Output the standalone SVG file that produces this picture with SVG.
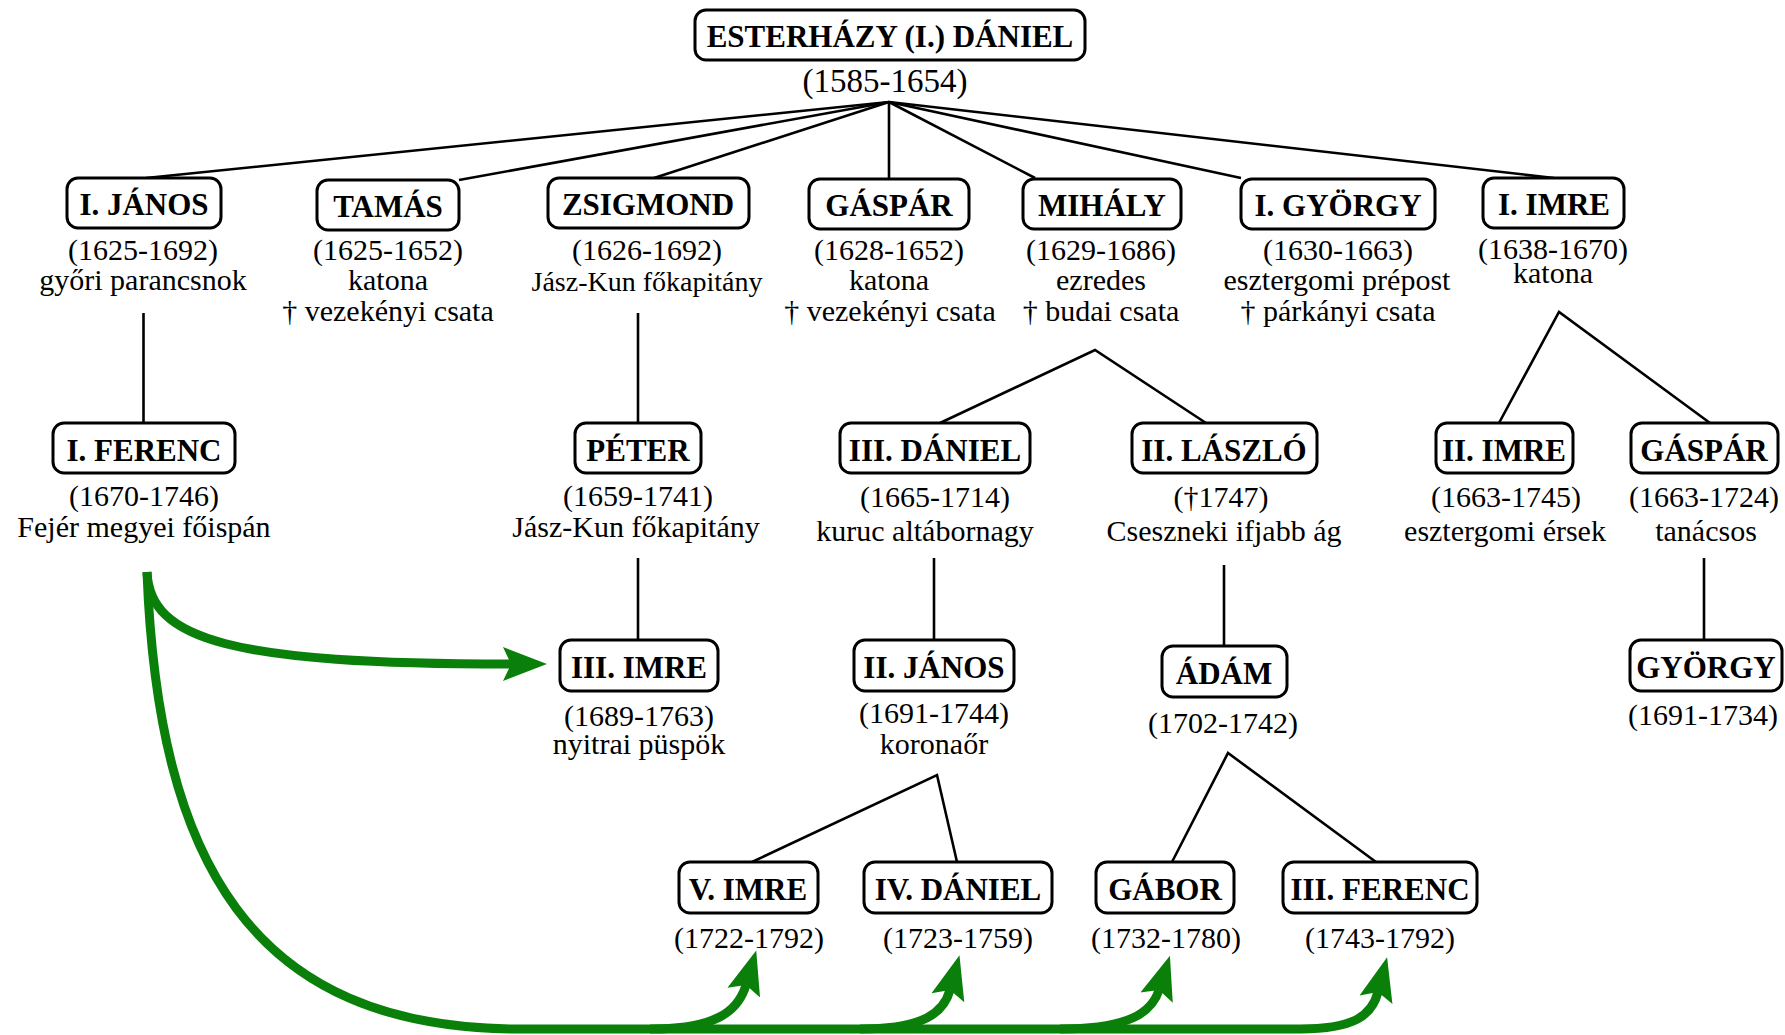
<svg xmlns="http://www.w3.org/2000/svg" width="1785" height="1035" viewBox="0 0 1785 1035">
<style>
.box{fill:#fff;stroke:#000;stroke-width:3}
.nm{font-family:"Liberation Serif","Times New Roman",serif;font-weight:bold;font-size:31px;text-anchor:middle;fill:#000}
.tx{font-family:"Liberation Serif","Times New Roman",serif;font-size:30px;text-anchor:middle;fill:#000}
.ln{stroke:#000;stroke-width:2.6;fill:none;stroke-linejoin:miter}
.gr{stroke:#0a800a;stroke-width:9;fill:none;stroke-linecap:butt}
</style>
<defs>
<marker id="ah" markerUnits="userSpaceOnUse" markerWidth="50" markerHeight="40" viewBox="0 -20 50 40" refX="8" refY="0" orient="auto">
<path d="M44,0 L0,-17 L8,0 L0,17 Z" fill="#0a800a"/>
</marker>
</defs>
<g id="connectors">
<line class="ln" x1="889" y1="102" x2="146" y2="178"/>
<line class="ln" x1="889" y1="102" x2="459" y2="180"/>
<line class="ln" x1="889" y1="102" x2="654" y2="178"/>
<line class="ln" x1="889" y1="102" x2="889" y2="178"/>
<line class="ln" x1="889" y1="102" x2="1035" y2="178"/>
<line class="ln" x1="889" y1="102" x2="1241" y2="178"/>
<line class="ln" x1="889" y1="102" x2="1554" y2="178"/>
<line class="ln" x1="143.5" y1="313" x2="143.5" y2="423"/>
<line class="ln" x1="638" y1="313" x2="638" y2="423"/>
<polyline class="ln" points="940,423 1095,350 1206,423"/>
<polyline class="ln" points="1499,423 1559,312 1710,423"/>
<line class="ln" x1="638" y1="558" x2="638" y2="640"/>
<line class="ln" x1="934" y1="558" x2="934" y2="640"/>
<line class="ln" x1="1224" y1="565" x2="1224" y2="646"/>
<line class="ln" x1="1704" y1="558" x2="1704" y2="640"/>
<polyline class="ln" points="752,862 937,775 957,862"/>
<polyline class="ln" points="1172,862 1228,753 1376,862"/>
<path class="gr" d="M147,572 C150,640 230,664 511,664" marker-end="url(#ah)"/>
<path class="gr" d="M147,572 C158,860 250,1029 520,1029 L1300,1029 C1355,1029 1372,1015 1378,992" marker-end="url(#ah)"/>
<path class="gr" d="M650,1029 C715,1029 738,1012 746,985" marker-end="url(#ah)"/>
<path class="gr" d="M860,1029 C925,1029 944,1012 950,990" marker-end="url(#ah)"/>
<path class="gr" d="M1060,1029 C1130,1029 1152,1012 1159,990" marker-end="url(#ah)"/>
</g>
<g id="n-root"><rect class="box" x="695" y="10" width="390" height="50" rx="11"/><text class="nm" x="890" y="47">ESTERHÁZY (I.) DÁNIEL</text><text class="tx" x="885" y="92" style="font-size:33px">(1585-1654)</text></g>
<g id="n-janos1"><rect class="box" x="67" y="178" width="154" height="50" rx="11"/><text class="nm" x="144" y="215">I. JÁNOS</text><text class="tx" x="143" y="260">(1625-1692)</text><text class="tx" x="143" y="290">győri parancsnok</text></g>
<g id="n-tamas"><rect class="box" x="317" y="180" width="142" height="50" rx="11"/><text class="nm" x="388" y="217">TAMÁS</text><text class="tx" x="388" y="260">(1625-1652)</text><text class="tx" x="388" y="290">katona</text><text class="tx" x="388" y="321">† vezekényi csata</text></g>
<g id="n-zsigmond"><rect class="box" x="548" y="178" width="201" height="50" rx="11"/><text class="nm" x="648" y="215">ZSIGMOND</text><text class="tx" x="647" y="260">(1626-1692)</text><text class="tx" x="647" y="291" style="font-size:28px">Jász-Kun főkapitány</text></g>
<g id="n-gaspar1"><rect class="box" x="809" y="179" width="160" height="50" rx="11"/><text class="nm" x="889" y="216">GÁSPÁR</text><text class="tx" x="889" y="260">(1628-1652)</text><text class="tx" x="889" y="290">katona</text><text class="tx" x="890" y="321">† vezekényi csata</text></g>
<g id="n-mihaly"><rect class="box" x="1023" y="179" width="158" height="50" rx="11"/><text class="nm" x="1102" y="216">MIHÁLY</text><text class="tx" x="1101" y="260">(1629-1686)</text><text class="tx" x="1101" y="290">ezredes</text><text class="tx" x="1101" y="321">† budai csata</text></g>
<g id="n-gyorgy1"><rect class="box" x="1241" y="179" width="194" height="50" rx="11"/><text class="nm" x="1338" y="216">I. GYÖRGY</text><text class="tx" x="1338" y="260">(1630-1663)</text><text class="tx" x="1337" y="290">esztergomi prépost</text><text class="tx" x="1338" y="321">† párkányi csata</text></g>
<g id="n-imre1"><rect class="box" x="1483" y="178" width="141" height="50" rx="11"/><text class="nm" x="1554" y="215">I. IMRE</text><text class="tx" x="1553" y="259">(1638-1670)</text><text class="tx" x="1553" y="283">katona</text></g>
<g id="n-ferenc1"><rect class="box" x="53" y="423" width="182" height="50" rx="11"/><text class="nm" x="144" y="461">I. FERENC</text><text class="tx" x="144" y="506">(1670-1746)</text><text class="tx" x="144" y="537">Fejér megyei főispán</text></g>
<g id="n-peter"><rect class="box" x="575" y="423" width="126" height="50" rx="11"/><text class="nm" x="638" y="461">PÉTER</text><text class="tx" x="638" y="506">(1659-1741)</text><text class="tx" x="636" y="537">Jász-Kun főkapitány</text></g>
<g id="n-daniel3"><rect class="box" x="840" y="423" width="190" height="50" rx="11"/><text class="nm" x="935" y="461">III. DÁNIEL</text><text class="tx" x="935" y="507">(1665-1714)</text><text class="tx" x="925" y="541">kuruc altábornagy</text></g>
<g id="n-laszlo2"><rect class="box" x="1132" y="423" width="185" height="50" rx="11"/><text class="nm" x="1224" y="461">II. LÁSZLÓ</text><text class="tx" x="1221" y="507">(†1747)</text><text class="tx" x="1224" y="541">Cseszneki ifjabb ág</text></g>
<g id="n-imre2"><rect class="box" x="1436" y="423" width="137" height="50" rx="11"/><text class="nm" x="1504" y="461">II. IMRE</text><text class="tx" x="1506" y="507">(1663-1745)</text><text class="tx" x="1505" y="541">esztergomi érsek</text></g>
<g id="n-gaspar2"><rect class="box" x="1631" y="423" width="147" height="50" rx="11"/><text class="nm" x="1704" y="461">GÁSPÁR</text><text class="tx" x="1704" y="507">(1663-1724)</text><text class="tx" x="1706" y="541">tanácsos</text></g>
<g id="n-imre3"><rect class="box" x="560" y="640" width="158" height="51" rx="11"/><text class="nm" x="639" y="678">III. IMRE</text><text class="tx" x="639" y="726">(1689-1763)</text><text class="tx" x="639" y="754">nyitrai püspök</text></g>
<g id="n-janos2"><rect class="box" x="854" y="640" width="160" height="51" rx="11"/><text class="nm" x="934" y="678">II. JÁNOS</text><text class="tx" x="934" y="723">(1691-1744)</text><text class="tx" x="934" y="754">koronaőr</text></g>
<g id="n-adam"><rect class="box" x="1162" y="646" width="125" height="51" rx="11"/><text class="nm" x="1224" y="684">ÁDÁM</text><text class="tx" x="1223" y="733">(1702-1742)</text></g>
<g id="n-gyorgy2"><rect class="box" x="1630" y="640" width="152" height="51" rx="11"/><text class="nm" x="1706" y="678">GYÖRGY</text><text class="tx" x="1703" y="725">(1691-1734)</text></g>
<g id="n-imre5"><rect class="box" x="679" y="862" width="139" height="51" rx="11"/><text class="nm" x="748" y="900">V. IMRE</text><text class="tx" x="749" y="948">(1722-1792)</text></g>
<g id="n-daniel4"><rect class="box" x="864" y="862" width="188" height="51" rx="11"/><text class="nm" x="958" y="900">IV. DÁNIEL</text><text class="tx" x="958" y="948">(1723-1759)</text></g>
<g id="n-gabor"><rect class="box" x="1096" y="862" width="138" height="51" rx="11"/><text class="nm" x="1165" y="900">GÁBOR</text><text class="tx" x="1166" y="948">(1732-1780)</text></g>
<g id="n-ferenc3"><rect class="box" x="1283" y="862" width="194" height="51" rx="11"/><text class="nm" x="1380" y="900">III. FERENC</text><text class="tx" x="1380" y="948">(1743-1792)</text></g>
</svg>
